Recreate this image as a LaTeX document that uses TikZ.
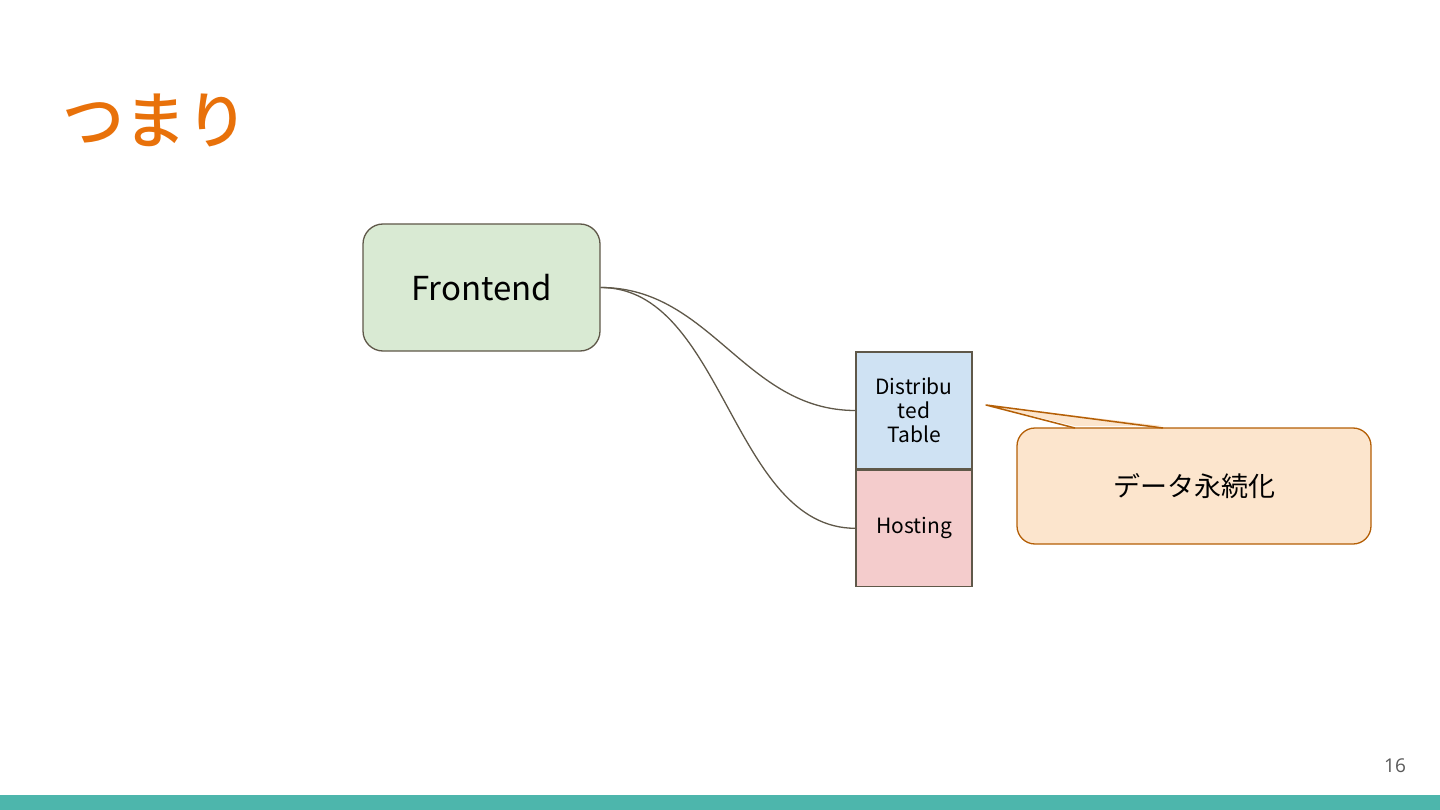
\documentclass[tikz,border=0pt]{standalone}
\usepackage{fontspec}
\setmainfont{Noto Sans CJK JP}
\newfontfamily\numfont{Open Sans}
\newfontfamily\titlefont{Noto Sans CJK JP Medium}
\usetikzlibrary{positioning}
\definecolor{linegray}{HTML}{5F5849}
\definecolor{fefill}{HTML}{D9EAD3}
\definecolor{dtfill}{HTML}{CFE2F3}
\definecolor{hostfill}{HTML}{F4CCCC}
\definecolor{notefill}{HTML}{FCE5CD}
\definecolor{notedraw}{HTML}{B45F06}
\definecolor{titleorange}{HTML}{E8710A}
\definecolor{barteal}{HTML}{4DB6AC}
\definecolor{pagegray}{HTML}{595959}
\begin{document}
\begin{tikzpicture}[x=1pt,y=-1pt,
    comp/.style={draw=linegray, line width=1.3pt, align=center, inner sep=0pt},
    link/.style={draw=linegray, line width=1.3pt}]
            \useasboundingbox (0,0) rectangle (1440,810);
            \fill[barteal] (0,795) rectangle (1440,810);
            \coordinate (T) at (155,120);
            \coordinate (F) at (481.5,287.5);
            \coordinate (D) at (914,410.5);
            \coordinate (N) at (1194,486);
            \node[text=titleorange, font=\titlefont\fontsize{62}{72}\selectfont] (title) at (T) {つまり};
            \node[comp, fill=fefill, rounded corners=20pt, minimum width=237pt, minimum height=127pt,
                font=\fontsize{33}{40}\selectfont] (fe) at (F) {Frontend};
            \node[comp, fill=dtfill, minimum width=116pt, minimum height=117pt,
                font=\fontsize{21}{24}\selectfont] (dt) at (D) {Distribu\\ted\\Table};
            \node[comp, fill=hostfill, minimum width=116pt, minimum height=116pt,
                font=\fontsize{21}{24}\selectfont, below=0pt of dt] (host) {Hosting};
            \draw[link] (fe.east) to[out=0, in=180] (dt.west);
            \draw[link] (fe.east) to[out=0, in=180, looseness=0.9] (host.west);
            % callout
            \node[draw=notedraw, line width=1.3pt, fill=notefill, rounded corners=18pt,
                minimum width=354pt, minimum height=116pt,
                font=\fontsize{27}{32}\selectfont] (note) at (N) {データ永続化};
            \coordinate (tip) at (986,405);
            \coordinate (b1) at (1075,428);
            \coordinate (b2) at (1163,428);
            \fill[notefill] ([yshift=2pt]b1) -- (tip) -- ([yshift=2pt]b2) -- cycle;
            \draw[notedraw, line width=1.5pt, line join=round] (b1) -- (tip) -- (b2);
            \node[text=pagegray, font=\numfont\fontsize{19}{22}\selectfont] (page) at (1395,766) {16};
        \end{tikzpicture}
\end{document}
